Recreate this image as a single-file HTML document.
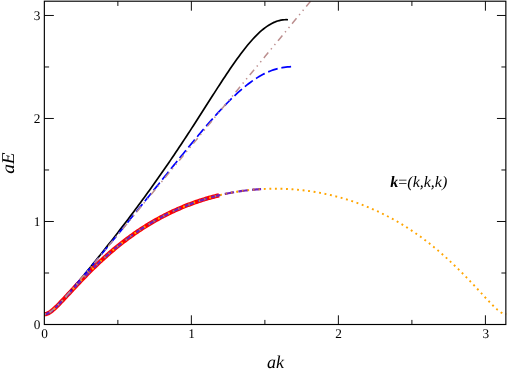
<!DOCTYPE html>
<html><head><meta charset="utf-8"><title>Dispersion relation</title>
<style>html,body{margin:0;padding:0;background:#fff}svg{display:block;will-change:transform}text{font-family:"Liberation Serif",serif;fill:#000;text-rendering:geometricPrecision}</style></head><body>
<svg width="507" height="369" viewBox="0 0 507 369">
<rect width="507" height="369" fill="#fff"/>
<g fill="none" stroke-linejoin="round">
<path d="M44.35,314.20 L46.10,313.98 L47.86,313.35 L49.61,312.38 L51.36,311.14 L53.11,309.69 L54.87,308.09 L56.62,306.38 L58.37,304.59 L60.13,302.74 L61.88,300.83 L63.63,298.89 L65.38,296.92 L67.14,294.92 L68.89,292.91 L70.64,290.87 L72.40,288.82 L74.15,286.75 L75.90,284.67 L77.65,282.59 L79.41,280.49 L81.16,278.38 L82.91,276.26 L84.67,274.14 L86.42,272.01 L88.17,269.87 L89.92,267.72 L91.68,265.57 L93.43,263.41 L95.18,261.24 L96.94,259.06 L98.69,256.88 L100.44,254.69 L102.19,252.50 L103.95,250.29 L105.70,248.08 L107.45,245.87 L109.21,243.64 L110.96,241.41 L112.71,239.17 L114.47,236.92 L116.22,234.67 L117.97,232.41 L119.72,230.14 L121.48,227.86 L123.23,225.57 L124.98,223.28 L126.74,220.97 L128.49,218.66 L130.24,216.34 L131.99,214.01 L133.75,211.67 L135.50,209.32 L137.25,206.97 L139.01,204.60 L140.76,202.22 L142.51,199.83 L144.26,197.44 L146.02,195.03 L147.77,192.61 L149.52,190.18 L151.28,187.74 L153.03,185.28 L154.78,182.82 L156.53,180.35 L158.29,177.86 L160.04,175.36 L161.79,172.85 L163.55,170.33 L165.30,167.80 L167.05,165.25 L168.80,162.69 L170.56,160.12 L172.31,157.54 L174.06,154.94 L175.82,152.34 L177.57,149.72 L179.32,147.09 L181.07,144.45 L182.83,141.80 L184.58,139.14 L186.33,136.47 L188.09,133.78 L189.84,131.09 L191.59,128.39 L193.34,125.68 L195.10,122.96 L196.85,120.24 L198.60,117.51 L200.36,114.77 L202.11,112.03 L203.86,109.29 L205.61,106.55 L207.37,103.80 L209.12,101.06 L210.87,98.32 L212.63,95.58 L214.38,92.85 L216.13,90.12 L217.88,87.40 L219.64,84.70 L221.39,82.01 L223.14,79.33 L224.90,76.68 L226.65,74.04 L228.40,71.43 L230.16,68.84 L231.91,66.28 L233.66,63.75 L235.41,61.26 L237.17,58.81 L238.92,56.40 L240.67,54.03 L242.43,51.71 L244.18,49.44 L245.93,47.23 L247.68,45.08 L249.44,42.99 L251.19,40.97 L252.94,39.01 L254.70,37.13 L256.45,35.33 L258.20,33.62 L259.95,31.98 L261.71,30.44 L263.46,28.99 L265.21,27.63 L266.97,26.37 L268.72,25.22 L270.47,24.17 L272.22,23.22 L273.98,22.39 L275.73,21.67 L277.48,21.05 L279.24,20.56 L280.99,20.17 L282.74,19.90 L284.49,19.73 L286.25,19.68 L288.00,19.73" stroke="#000" stroke-width="1.7"/>
<path d="M44.35,314.22 L45.61,314.10 L46.86,313.78 L48.12,313.25 L49.38,312.56 L50.63,311.72 L51.89,310.77 L53.15,309.72 L54.40,308.60 L55.66,307.43 L56.92,306.21 L58.17,304.95 L59.43,303.67 L60.69,302.37 L61.94,301.05 L63.20,299.71 L64.45,298.37 L65.71,297.02 L66.97,295.66 L68.22,294.30 L69.48,292.95 L70.74,291.59 L71.99,290.23 L73.25,288.88 L74.51,287.53 L75.76,286.18 L77.02,284.84 L78.28,283.50 L79.53,282.17 L80.79,280.85 L82.05,279.54 L83.30,278.23 L84.56,276.93 L85.82,275.64 L87.07,274.36 L88.33,273.08 L89.59,271.82 L90.84,270.56 L92.10,269.32 L93.36,268.08 L94.61,266.86 L95.87,265.65 L97.12,264.44 L98.38,263.25 L99.64,262.06 L100.89,260.89 L102.15,259.73 L103.41,258.58 L104.66,257.44 L105.92,256.31 L107.18,255.19 L108.43,254.08 L109.69,252.99 L110.95,251.90 L112.20,250.83 L113.46,249.76 L114.72,248.71 L115.97,247.67 L117.23,246.64 L118.49,245.62 L119.74,244.61 L121.00,243.61 L122.26,242.63 L123.51,241.65 L124.77,240.69 L126.03,239.73 L127.28,238.79 L128.54,237.86 L129.80,236.94 L131.05,236.03 L132.31,235.13 L133.56,234.24 L134.82,233.36 L136.08,232.49 L137.33,231.63 L138.59,230.78 L139.85,229.95 L141.10,229.12 L142.36,228.30 L143.62,227.49 L144.87,226.70 L146.13,225.91 L147.39,225.13 L148.64,224.36 L149.90,223.60 L151.16,222.86 L152.41,222.12 L153.67,221.39 L154.93,220.67 L156.18,219.96 L157.44,219.26 L158.70,218.57 L159.95,217.89 L161.21,217.21 L162.47,216.55 L163.72,215.89 L164.98,215.25 L166.23,214.61 L167.49,213.99 L168.75,213.37 L170.00,212.76 L171.26,212.16 L172.52,211.56 L173.77,210.98 L175.03,210.40 L176.29,209.84 L177.54,209.28 L178.80,208.73 L180.06,208.19 L181.31,207.65 L182.57,207.13 L183.83,206.61 L185.08,206.10 L186.34,205.60 L187.60,205.11 L188.85,204.63 L190.11,204.15 L191.37,203.68 L192.62,203.22 L193.88,202.77 L195.14,202.33 L196.39,201.89 L197.65,201.46 L198.91,201.04 L200.16,200.62 L201.42,200.22 L202.67,199.82 L203.93,199.43 L205.19,199.04 L206.44,198.67 L207.70,198.30 L208.96,197.94 L210.21,197.58 L211.47,197.24 L212.73,196.90 L213.98,196.57 L215.24,196.24 L216.50,195.92 L217.75,195.61 L219.01,195.31" stroke="#ff0000" stroke-width="4.3"/>
<path d="M44.35,314.20 L46.13,313.98 L47.90,313.33 L49.68,312.34 L51.45,311.07 L53.23,309.60 L55.00,307.97 L56.78,306.24 L58.55,304.42 L60.33,302.54 L62.10,300.62 L63.88,298.65 L65.65,296.66 L67.43,294.65 L69.20,292.62 L70.98,290.57 L72.75,288.51 L74.53,286.43 L76.30,284.35 L78.08,282.26 L79.85,280.16 L81.63,278.06 L83.40,275.95 L85.18,273.83 L86.95,271.71 L88.73,269.59 L90.50,267.46 L92.28,265.33 L94.06,263.20 L95.83,261.06 L97.61,258.92 L99.38,256.78 L101.16,254.64 L102.93,252.49 L104.71,250.34 L106.48,248.19 L108.26,246.03 L110.03,243.87 L111.81,241.71 L113.58,239.55 L115.36,237.39 L117.13,235.22 L118.91,233.06 L120.68,230.89 L122.46,228.72 L124.23,226.54 L126.01,224.37 L127.78,222.19 L129.56,220.01 L131.33,217.83 L133.11,215.65 L134.88,213.46 L136.66,211.27 L138.43,209.09 L140.21,206.90 L141.98,204.70 L143.76,202.51 L145.54,200.32 L147.31,198.12 L149.09,195.92 L150.86,193.73 L152.64,191.53 L154.41,189.33 L156.19,187.12 L157.96,184.92 L159.74,182.72 L161.51,180.52 L163.29,178.32 L165.06,176.12 L166.84,173.91 L168.61,171.71 L170.39,169.52 L172.16,167.32 L173.94,165.12 L175.71,162.93 L177.49,160.74 L179.26,158.55 L181.04,156.36 L182.81,154.18 L184.59,152.01 L186.36,149.83 L188.14,147.67 L189.91,145.51 L191.69,143.35 L193.47,141.21 L195.24,139.07 L197.02,136.94 L198.79,134.82 L200.57,132.71 L202.34,130.62 L204.12,128.53 L205.89,126.46 L207.67,124.40 L209.44,122.36 L211.22,120.33 L212.99,118.32 L214.77,116.33 L216.54,114.36 L218.32,112.41 L220.09,110.49 L221.87,108.58 L223.64,106.70 L225.42,104.85 L227.19,103.02 L228.97,101.23 L230.74,99.46 L232.52,97.73 L234.29,96.02 L236.07,94.36 L237.84,92.73 L239.62,91.14 L241.39,89.58 L243.17,88.07 L244.95,86.60 L246.72,85.17 L248.50,83.79 L250.27,82.46 L252.05,81.17 L253.82,79.94 L255.60,78.75 L257.37,77.62 L259.15,76.54 L260.92,75.51 L262.70,74.54 L264.47,73.63 L266.25,72.77 L268.02,71.97 L269.80,71.23 L271.57,70.54 L273.35,69.92 L275.12,69.35 L276.90,68.84 L278.67,68.39 L280.45,68.00 L282.22,67.65 L284.00,67.37 L285.77,67.13 L287.55,66.94 L289.32,66.80 L291.10,66.70" stroke="#0000ff" stroke-width="1.7" stroke-dasharray="10.00 3.84" stroke-dashoffset="0.00"/>
<path d="M44.35,314.22 L46.13,313.99 L47.92,313.35 L49.70,312.35 L51.48,311.08 L53.27,309.62 L55.05,308.00 L56.83,306.29 L58.62,304.50 L60.40,302.66 L62.18,300.79 L63.97,298.89 L65.75,296.98 L67.53,295.05 L69.32,293.12 L71.10,291.20 L72.88,289.27 L74.67,287.36 L76.45,285.45 L78.23,283.55 L80.02,281.66 L81.80,279.79 L83.58,277.94 L85.37,276.10 L87.15,274.28 L88.93,272.47 L90.72,270.69 L92.50,268.93 L94.28,267.18 L96.07,265.46 L97.85,263.75 L99.63,262.07 L101.42,260.41 L103.20,258.77 L104.98,257.15 L106.77,255.55 L108.55,253.98 L110.33,252.43 L112.12,250.90 L113.90,249.39 L115.68,247.91 L117.47,246.45 L119.25,245.01 L121.03,243.59 L122.82,242.19 L124.60,240.82 L126.38,239.47 L128.17,238.14 L129.95,236.83 L131.73,235.54 L133.52,234.27 L135.30,233.03 L137.08,231.80 L138.87,230.60 L140.65,229.42 L142.43,228.25 L144.22,227.11 L146.00,225.99 L147.78,224.89 L149.57,223.81 L151.35,222.74 L153.13,221.70 L154.92,220.68 L156.70,219.67 L158.48,218.68 L160.27,217.72 L162.05,216.77 L163.83,215.84 L165.61,214.93 L167.40,214.03 L169.18,213.16 L170.96,212.30 L172.75,211.46 L174.53,210.63 L176.31,209.82 L178.10,209.04 L179.88,208.26 L181.66,207.51 L183.45,206.77 L185.23,206.05 L187.01,205.34 L188.80,204.65 L190.58,203.98 L192.36,203.32 L194.15,202.67 L195.93,202.05 L197.71,201.44 L199.50,200.84 L201.28,200.26 L203.06,199.70 L204.85,199.15 L206.63,198.61 L208.41,198.09 L210.20,197.59 L211.98,197.10 L213.76,196.62 L215.55,196.16 L217.33,195.72 L219.11,195.28 L220.90,194.87 L222.68,194.46 L224.46,194.07 L226.25,193.70 L228.03,193.34 L229.81,192.99 L231.60,192.66 L233.38,192.34 L235.16,192.03 L236.95,191.74 L238.73,191.46 L240.51,191.19 L242.30,190.94 L244.08,190.71 L245.86,190.48 L247.65,190.27 L249.43,190.07 L251.21,189.89 L253.00,189.72 L254.78,189.56 L256.56,189.41 L258.35,189.28 L260.13,189.16 L261.91,189.06 L263.70,188.97 L265.48,188.89 L267.26,188.82 L269.05,188.77 L270.83,188.73 L272.61,188.71 L274.40,188.69 L276.18,188.69 L277.96,188.71 L279.75,188.73 L281.53,188.77 L283.31,188.82 L285.10,188.89 L286.88,188.97 L288.66,189.06 L290.45,189.16 L292.23,189.28 L294.01,189.41 L295.80,189.56 L297.58,189.72 L299.36,189.89 L301.15,190.07 L302.93,190.27 L304.71,190.48 L306.50,190.71 L308.28,190.94 L310.06,191.19 L311.85,191.46 L313.63,191.74 L315.41,192.03 L317.20,192.34 L318.98,192.66 L320.76,192.99 L322.55,193.34 L324.33,193.70 L326.11,194.07 L327.90,194.46 L329.68,194.87 L331.46,195.28 L333.25,195.72 L335.03,196.16 L336.81,196.62 L338.60,197.10 L340.38,197.59 L342.16,198.09 L343.95,198.61 L345.73,199.15 L347.51,199.70 L349.30,200.26 L351.08,200.84 L352.86,201.44 L354.65,202.05 L356.43,202.67 L358.21,203.32 L360.00,203.98 L361.78,204.65 L363.56,205.34 L365.35,206.05 L367.13,206.77 L368.91,207.51 L370.70,208.26 L372.48,209.04 L374.26,209.82 L376.05,210.63 L377.83,211.46 L379.61,212.30 L381.40,213.16 L383.18,214.03 L384.96,214.93 L386.75,215.84 L388.53,216.77 L390.31,217.72 L392.10,218.68 L393.88,219.67 L395.66,220.68 L397.45,221.70 L399.23,222.74 L401.01,223.81 L402.80,224.89 L404.58,225.99 L406.36,227.11 L408.14,228.25 L409.93,229.42 L411.71,230.60 L413.49,231.80 L415.28,233.03 L417.06,234.27 L418.84,235.54 L420.63,236.83 L422.41,238.14 L424.19,239.47 L425.98,240.82 L427.76,242.19 L429.54,243.59 L431.33,245.01 L433.11,246.45 L434.89,247.91 L436.68,249.39 L438.46,250.90 L440.24,252.43 L442.03,253.98 L443.81,255.55 L445.59,257.15 L447.38,258.77 L449.16,260.41 L450.94,262.07 L452.73,263.75 L454.51,265.46 L456.29,267.18 L458.08,268.93 L459.86,270.69 L461.64,272.47 L463.43,274.28 L465.21,276.10 L466.99,277.94 L468.78,279.79 L470.56,281.66 L472.34,283.55 L474.13,285.45 L475.91,287.36 L477.69,289.27 L479.48,291.20 L481.26,293.12 L483.04,295.05 L484.83,296.98 L486.61,298.89 L488.39,300.79 L490.18,302.66 L491.96,304.50 L493.74,306.29 L495.53,308.00 L497.31,309.62 L499.09,311.08 L500.88,312.35 L502.66,313.35 L504.44,313.99 L506.23,314.22" stroke="#ffa500" stroke-width="1.9" stroke-dasharray="1.90 3.646" stroke-dashoffset="0.26"/>
<path d="M44.35,314.22 L45.91,314.04 L47.47,313.55 L49.03,312.76 L50.59,311.75 L52.15,310.56 L53.71,309.23 L55.27,307.80 L56.82,306.30 L58.38,304.74 L59.94,303.14 L61.50,301.51 L63.06,299.86 L64.62,298.19 L66.18,296.51 L67.74,294.83 L69.30,293.14 L70.86,291.46 L72.42,289.77 L73.98,288.09 L75.54,286.42 L77.10,284.76 L78.66,283.10 L80.22,281.46 L81.77,279.82 L83.33,278.20 L84.89,276.59 L86.45,274.99 L88.01,273.40 L89.57,271.83 L91.13,270.28 L92.69,268.74 L94.25,267.21 L95.81,265.70 L97.37,264.21 L98.93,262.73 L100.49,261.27 L102.05,259.83 L103.61,258.40 L105.17,256.99 L106.72,255.59 L108.28,254.21 L109.84,252.85 L111.40,251.51 L112.96,250.18 L114.52,248.87 L116.08,247.58 L117.64,246.31 L119.20,245.05 L120.76,243.80 L122.32,242.58 L123.88,241.37 L125.44,240.18 L127.00,239.01 L128.56,237.85 L130.12,236.71 L131.67,235.58 L133.23,234.47 L134.79,233.38 L136.35,232.30 L137.91,231.24 L139.47,230.20 L141.03,229.17 L142.59,228.15 L144.15,227.15 L145.71,226.17 L147.27,225.20 L148.83,224.25 L150.39,223.31 L151.95,222.39 L153.51,221.48 L155.06,220.59 L156.62,219.71 L158.18,218.85 L159.74,218.00 L161.30,217.16 L162.86,216.34 L164.42,215.53 L165.98,214.74 L167.54,213.96 L169.10,213.20 L170.66,212.44 L172.22,211.70 L173.78,210.98 L175.34,210.27 L176.90,209.57 L178.46,208.88 L180.01,208.21 L181.57,207.55 L183.13,206.90 L184.69,206.26 L186.25,205.64 L187.81,205.03 L189.37,204.43 L190.93,203.85 L192.49,203.27 L194.05,202.71 L195.61,202.16 L197.17,201.62 L198.73,201.10 L200.29,200.58 L201.85,200.08 L203.41,199.59 L204.96,199.11 L206.52,198.64 L208.08,198.19 L209.64,197.74 L211.20,197.31 L212.76,196.89 L214.32,196.48 L215.88,196.08 L217.44,195.69 L219.00,195.31 L220.56,194.94 L222.12,194.59 L223.68,194.24 L225.24,193.91 L226.80,193.58 L228.35,193.27 L229.91,192.97 L231.47,192.68 L233.03,192.40 L234.59,192.13 L236.15,191.87 L237.71,191.62 L239.27,191.38 L240.83,191.15 L242.39,190.93 L243.95,190.72 L245.51,190.52 L247.07,190.34 L248.63,190.16 L250.19,189.99 L251.75,189.84 L253.30,189.69 L254.86,189.55 L256.42,189.43 L257.98,189.31 L259.54,189.20 L261.10,189.11" stroke="#7221bc" stroke-width="2.2" stroke-dasharray="9.50 4.34" stroke-dashoffset="0.50"/>
<path d="M44.35,314.22 L45.91,314.04 L47.47,313.55 L49.03,312.76 L50.59,311.75 L52.15,310.56 L53.71,309.23 L55.27,307.80 L56.82,306.30 L58.38,304.74 L59.94,303.14 L61.50,301.51 L63.06,299.86 L64.62,298.19 L66.18,296.51 L67.74,294.83 L69.30,293.14 L70.86,291.46 L72.42,289.77 L73.98,288.09 L75.54,286.42 L77.10,284.76 L78.66,283.10 L80.22,281.46 L81.77,279.82 L83.33,278.20 L84.89,276.59 L86.45,274.99 L88.01,273.40 L89.57,271.83 L91.13,270.28 L92.69,268.74 L94.25,267.21 L95.81,265.70 L97.37,264.21 L98.93,262.73 L100.49,261.27 L102.05,259.83 L103.61,258.40 L105.17,256.99 L106.72,255.59 L108.28,254.21 L109.84,252.85 L111.40,251.51 L112.96,250.18 L114.52,248.87 L116.08,247.58 L117.64,246.31 L119.20,245.05 L120.76,243.80 L122.32,242.58 L123.88,241.37 L125.44,240.18 L127.00,239.01 L128.56,237.85 L130.12,236.71 L131.67,235.58 L133.23,234.47 L134.79,233.38 L136.35,232.30 L137.91,231.24 L139.47,230.20 L141.03,229.17 L142.59,228.15 L144.15,227.15 L145.71,226.17 L147.27,225.20 L148.83,224.25 L150.39,223.31 L151.95,222.39 L153.51,221.48 L155.06,220.59 L156.62,219.71 L158.18,218.85 L159.74,218.00 L161.30,217.16 L162.86,216.34 L164.42,215.53 L165.98,214.74 L167.54,213.96 L169.10,213.20 L170.66,212.44 L172.22,211.70 L173.78,210.98 L175.34,210.27 L176.90,209.57 L178.46,208.88 L180.01,208.21 L181.57,207.55 L183.13,206.90 L184.69,206.26 L186.25,205.64 L187.81,205.03 L189.37,204.43 L190.93,203.85 L192.49,203.27 L194.05,202.71 L195.61,202.16 L197.17,201.62 L198.73,201.10 L200.29,200.58 L201.85,200.08 L203.41,199.59 L204.96,199.11 L206.52,198.64 L208.08,198.19 L209.64,197.74 L211.20,197.31 L212.76,196.89 L214.32,196.48 L215.88,196.08 L217.44,195.69 L219.00,195.31 L220.56,194.94 L222.12,194.59 L223.68,194.24 L225.24,193.91 L226.80,193.58 L228.35,193.27 L229.91,192.97 L231.47,192.68 L233.03,192.40 L234.59,192.13 L236.15,191.87 L237.71,191.62 L239.27,191.38 L240.83,191.15 L242.39,190.93 L243.95,190.72 L245.51,190.52 L247.07,190.34 L248.63,190.16 L250.19,189.99 L251.75,189.84 L253.30,189.69 L254.86,189.55 L256.42,189.43 L257.98,189.31 L259.54,189.20 L261.10,189.11" stroke="#ffa500" stroke-opacity="0.8" stroke-width="1.9" stroke-dasharray="1.20 4.346" stroke-dashoffset="-0.09"/>
<path d="M44.35,314.20 L48.86,312.83 L53.37,309.47 L57.88,305.12 L62.39,300.30 L66.90,295.26 L71.41,290.08 L75.92,284.82 L80.43,279.51 L84.94,274.17 L89.46,268.80 L93.97,263.41 L98.48,258.01 L102.99,252.60 L107.50,247.18 L112.01,241.75 L116.52,236.32 L121.03,230.88 L125.54,225.43 L130.05,219.99 L134.56,214.54 L139.07,209.09 L143.58,203.64 L148.09,198.18 L152.60,192.73 L157.11,187.27 L161.62,181.81 L166.13,176.35 L170.64,170.89 L175.16,165.43 L179.67,159.96 L184.18,154.50 L188.69,149.04 L193.20,143.57 L197.71,138.11 L202.22,132.64 L206.73,127.17 L211.24,121.71 L215.75,116.24 L220.26,110.77 L224.77,105.30 L229.28,99.84 L233.79,94.37 L238.30,88.90 L242.81,83.43 L247.32,77.96 L251.83,72.49 L256.34,67.02 L260.86,61.55 L265.37,56.09 L269.88,50.62 L274.39,45.15 L278.90,39.67 L283.41,34.20 L287.92,28.73 L292.43,23.26 L296.94,17.79 L301.45,12.32 L305.96,6.85 L310.47,1.38" stroke="#bc8f8f" stroke-width="1.5" stroke-dasharray="1.39 4.16 6.93 4.16 1.39 4.16" stroke-dashoffset="0.00"/>
</g>
<g fill="none" stroke="#000" stroke-width="0.95">
<path d="M117.86,324.5 V319.90 M117.86,1.2 V5.95"/>
<path d="M44.35,273.00 H49.10 M505.85,273.00 H501.40"/>
<path d="M191.37,324.5 V315.30 M191.37,1.2 V10.70"/>
<path d="M44.35,221.49 H53.85 M505.85,221.49 H496.95"/>
<path d="M264.88,324.5 V319.90 M264.88,1.2 V5.95"/>
<path d="M44.35,169.98 H49.10 M505.85,169.98 H501.40"/>
<path d="M338.39,324.5 V315.30 M338.39,1.2 V10.70"/>
<path d="M44.35,118.48 H53.85 M505.85,118.48 H496.95"/>
<path d="M411.90,324.5 V319.90 M411.90,1.2 V5.95"/>
<path d="M44.35,66.97 H49.10 M505.85,66.97 H501.40"/>
<path d="M485.41,324.5 V315.30 M485.41,1.2 V10.70"/>
<path d="M44.35,15.47 H53.85 M505.85,15.47 H496.95"/>
</g>
<rect x="44.35" y="1.2" width="461.5" height="323.3" fill="none" stroke="#000" stroke-width="1.15"/>
<text x="44.65" y="338.3" font-size="13.3" text-anchor="middle">0</text>
<text x="40.4" y="328.80" font-size="13.3" text-anchor="end">0</text>
<text x="191.67" y="338.3" font-size="13.3" text-anchor="middle">1</text>
<text x="40.4" y="225.79" font-size="13.3" text-anchor="end">1</text>
<text x="338.69" y="338.3" font-size="13.3" text-anchor="middle">2</text>
<text x="40.4" y="122.78" font-size="13.3" text-anchor="end">2</text>
<text x="485.71" y="338.3" font-size="13.3" text-anchor="middle">3</text>
<text x="40.4" y="19.77" font-size="13.3" text-anchor="end">3</text>
<text x="275.4" y="367.8" font-size="18" font-style="italic" text-anchor="middle">ak</text>
<text transform="translate(13.6,163.1) rotate(-90) scale(1.07,1)" font-size="18" font-style="italic" text-anchor="middle">aE</text>
<text x="390.3" y="186.5" font-size="16"><tspan font-weight="bold" font-style="italic">k</tspan>=<tspan font-style="italic">(k,k,k)</tspan></text>
</svg></body></html>
